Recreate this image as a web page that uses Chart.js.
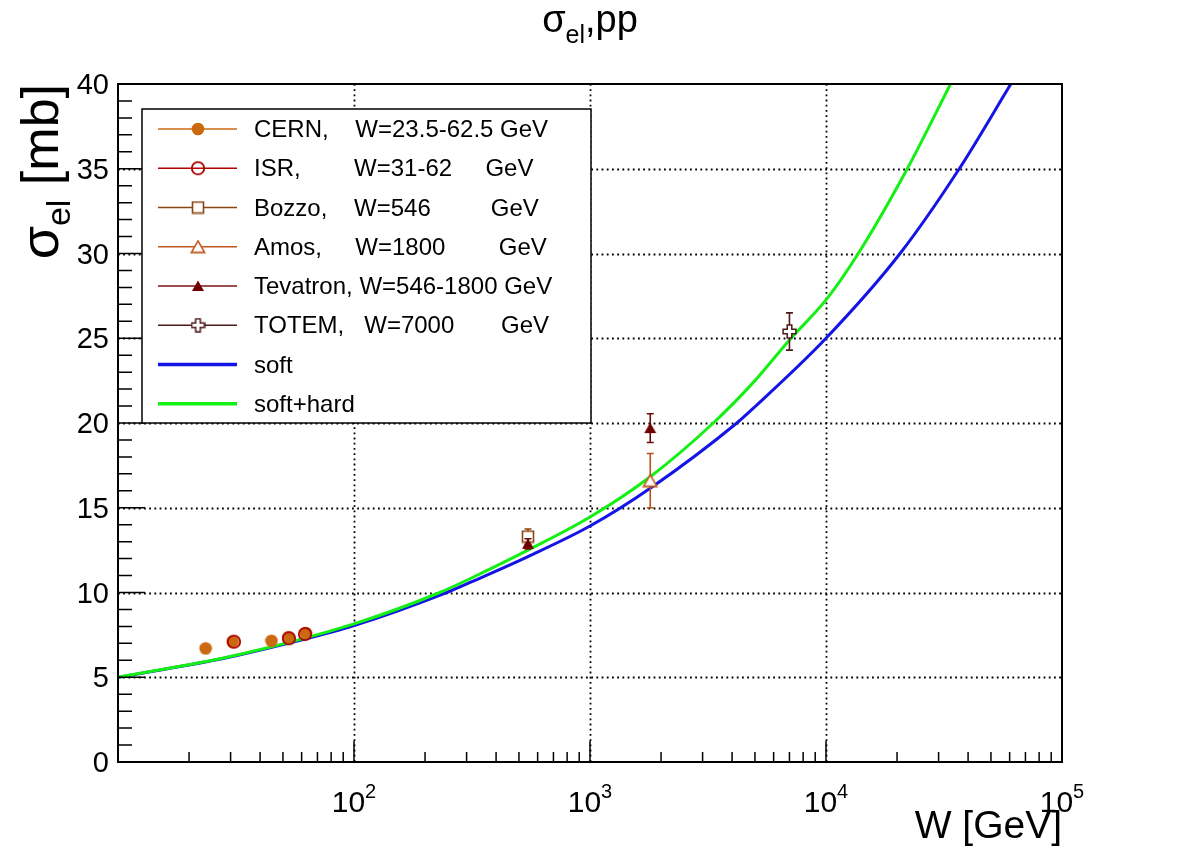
<!DOCTYPE html>
<html lang="en">
<head>
<meta charset="UTF-8">
<title>sigma_el pp</title>
<script src="https://cdn.jsdelivr.net/npm/chart.js"></script>
<style>
  html, body { margin: 0; padding: 0; background: #fff; }
  #wrap { position: relative; width: 1182px; height: 848px; }
</style>
</head>
<body>
<div id="wrap"><canvas id="sigmaChart" width="1182" height="848"></canvas></div>
<script>
// measured elastic cross sections, W in GeV, sigma in mb
const cernW = [23.5, 30.6, 44.7, 52.8, 62.5];
const cernSigma = [6.7, 7.1, 7.15, 7.35, 7.6];
const isrW = [31, 53, 62];
const isrSigma = [7.1, 7.3, 7.55];
const bozzoW = [546];
const bozzoSigma = [13.3];
const bozzoErr = [0.45];
const amosW = [1800];
const amosSigma = [16.6];
const amosErr = [1.6];
const tevatronW = [546, 1800];
const tevatronSigma = [12.87, 19.7];
const tevatronErr = [0.3, 0.85];
const totemW = [7000];
const totemSigma = [25.4];
const totemErr = [1.1];

// model curves
const softW = [10, 17.8, 31.6, 56.2, 100, 247, 316, 546, 1000, 1800, 4190, 5000, 10000, 20600, 36700, 60700];
const softSigma = [5.0, 5.6, 6.27, 7.1, 8.05, 10.0, 10.64, 12.12, 13.92, 16.15, 20.0, 20.96, 25.0, 30.0, 35.0, 40.0];
const hardW = [10, 31.6, 100, 231, 316, 546, 1000, 1800, 3330, 5000, 7000, 10000, 13700, 22100, 33700];
const hardSigma = [5.0, 6.3, 8.15, 10.0, 10.87, 12.5, 14.45, 16.83, 20.0, 22.5, 24.9, 27.26, 30.0, 35.0, 40.0];

// axes
const yMajorTicks = [0, 5, 10, 15, 20, 25, 30, 35, 40];
const xDecadeExps = [1, 2, 3, 4, 5];
const xLabelExps = [2, 3, 4, 5];

const legendLabels = [
  'CERN,    W=23.5-62.5 GeV',
  'ISR,        W=31-62     GeV',
  'Bozzo,    W=546         GeV',
  'Amos,     W=1800        GeV',
  'Tevatron, W=546-1800 GeV',
  'TOTEM,   W=7000       GeV',
  'soft',
  'soft+hard'
];

const FONT = '"Liberation Sans", Arial, Helvetica, sans-serif';

function pts(xs, ys) {
  return xs.map((x, i) => ({ x: x, y: ys[i] }));
}

function markerCanvas(w, h, paint) {
  const c = document.createElement('canvas');
  c.width = w;
  c.height = h;
  paint(c.getContext('2d'));
  return c;
}

const cernMarker = markerCanvas(14, 14, g => {
  g.fillStyle = '#cc690f';
  g.beginPath(); g.arc(7, 7, 6.3, 0, 2 * Math.PI); g.fill();
});
const isrMarker = markerCanvas(16, 16, g => {
  g.strokeStyle = '#a80000'; g.lineWidth = 1.8;
  g.beginPath(); g.arc(8, 8, 6.2, 0, 2 * Math.PI); g.stroke();
});
const bozzoMarker = markerCanvas(14, 14, g => {
  g.fillStyle = '#fff'; g.strokeStyle = '#8b4513'; g.lineWidth = 1.6;
  g.fillRect(1.5, 1.5, 11, 11); g.strokeRect(1.5, 1.5, 11, 11);
});
const amosMarker = markerCanvas(16, 14, g => {
  g.fillStyle = '#fff'; g.strokeStyle = '#c0561c'; g.lineWidth = 1.6;
  g.beginPath(); g.moveTo(8, 1.2); g.lineTo(14.6, 12.6); g.lineTo(1.4, 12.6); g.closePath();
  g.fill(); g.stroke();
});
const tevatronMarker = markerCanvas(14, 12, g => {
  g.fillStyle = '#700000';
  g.beginPath(); g.moveTo(7, 0.5); g.lineTo(13, 11); g.lineTo(1, 11); g.closePath(); g.fill();
});
const totemMarker = markerCanvas(15, 15, g => {
  const c = 7.5, a = 2.3, L = 6.4;
  g.fillStyle = '#fff'; g.strokeStyle = '#4d1a1a'; g.lineWidth = 1.5;
  g.beginPath();
  g.moveTo(c - a, c - L); g.lineTo(c + a, c - L); g.lineTo(c + a, c - a); g.lineTo(c + L, c - a);
  g.lineTo(c + L, c + a); g.lineTo(c + a, c + a); g.lineTo(c + a, c + L); g.lineTo(c - a, c + L);
  g.lineTo(c - a, c + a); g.lineTo(c - L, c + a); g.lineTo(c - L, c - a); g.lineTo(c - a, c - a);
  g.closePath(); g.fill(); g.stroke();
});

const legendStyles = [
  { color: '#cc690f', marker: cernMarker, width: 1.5 },
  { color: '#b00000', marker: isrMarker, width: 1.5 },
  { color: '#8b4513', marker: bozzoMarker, width: 1.5 },
  { color: '#c0561c', marker: amosMarker, width: 1.5 },
  { color: '#7a1515', marker: tevatronMarker, width: 1.5 },
  { color: '#4d1a1a', marker: totemMarker, width: 1.5 },
  { color: '#1414e6', marker: null, width: 3.5 },
  { color: '#14f014', marker: null, width: 3.5 }
];

function pointSet(label, xs, ys, marker, color, order, errs) {
  return {
    label: label,
    data: pts(xs, ys),
    pointStyle: marker,
    pointRadius: 6,
    showLine: false,
    borderColor: color,
    backgroundColor: color,
    order: order,
    yErr: errs || null
  };
}

function curveSet(label, xs, ys, color, order) {
  return {
    label: label,
    data: pts(xs, ys),
    showLine: true,
    pointRadius: 0,
    borderWidth: 3,
    borderColor: color,
    cubicInterpolationMode: 'monotone',
    order: order
  };
}

function subText(ctx, parts, x, y, align) {
  // parts: [text, size, dy]
  let total = 0;
  parts.forEach(p => { ctx.font = p[1] + 'px ' + FONT; total += ctx.measureText(p[0]).width; });
  let cx = align === 'center' ? x - total / 2 : align === 'right' ? x - total : x;
  ctx.textAlign = 'left';
  ctx.textBaseline = 'alphabetic';
  parts.forEach(p => {
    ctx.font = p[1] + 'px ' + FONT;
    ctx.fillText(p[0], cx, y + p[2]);
    cx += ctx.measureText(p[0]).width;
  });
}

const rootStyle = {
  id: 'rootStyle',
  beforeDatasetsDraw(chart) {
    const { ctx, chartArea: a, scales: { x, y } } = chart;
    ctx.save();
    ctx.strokeStyle = '#000';
    ctx.lineWidth = 1.8;
    ctx.setLineDash([1.8, 3.4]);
    xDecadeExps.forEach(e => {
      const px = Math.round(x.getPixelForValue(Math.pow(10, e))) + 0.5;
      if (px <= a.left + 2 || px >= a.right - 2) return;
      ctx.beginPath(); ctx.moveTo(px, a.top); ctx.lineTo(px, a.bottom); ctx.stroke();
    });
    yMajorTicks.forEach(v => {
      const py = Math.round(y.getPixelForValue(v)) + 0.5;
      if (py <= a.top + 2 || py >= a.bottom - 2) return;
      ctx.beginPath(); ctx.moveTo(a.left, py); ctx.lineTo(a.right, py); ctx.stroke();
    });
    ctx.restore();
  },
  beforeDatasetDraw(chart, args) {
    const ds = chart.data.datasets[args.index];
    if (!ds.yErr) return;
    const { ctx, scales: { x, y } } = chart;
    ctx.save();
    ctx.strokeStyle = ds.borderColor;
    ctx.lineWidth = 1.6;
    ds.data.forEach((p, i) => {
      const px = x.getPixelForValue(p.x);
      const top = y.getPixelForValue(p.y + ds.yErr[i]);
      const bot = y.getPixelForValue(p.y - ds.yErr[i]);
      ctx.beginPath();
      ctx.moveTo(px, top); ctx.lineTo(px, bot);
      ctx.moveTo(px - 3.5, top); ctx.lineTo(px + 3.5, top);
      ctx.moveTo(px - 3.5, bot); ctx.lineTo(px + 3.5, bot);
      ctx.stroke();
    });
    ctx.restore();
  },
  afterDatasetsDraw(chart) {
    const { ctx, chartArea: a, scales: { x, y } } = chart;
    ctx.save();
    ctx.strokeStyle = '#000';
    ctx.fillStyle = '#000';
    ctx.lineWidth = 1.5;

    // ticks on x axis (inward)
    ctx.beginPath();
    for (let e = 1; e < 5; e++) {
      for (let m = 1; m <= 9; m++) {
        const px = x.getPixelForValue(m * Math.pow(10, e));
        const len = m === 1 ? 21 : 10;
        ctx.moveTo(px, a.bottom); ctx.lineTo(px, a.bottom - len);
      }
    }
    // ticks on y axis
    for (let v = 0; v <= 40; v++) {
      const py = y.getPixelForValue(v);
      const len = v % 5 === 0 ? 27 : 14;
      ctx.moveTo(a.left, py); ctx.lineTo(a.left + len, py);
    }
    ctx.stroke();

    // frame
    ctx.lineWidth = 2;
    ctx.strokeRect(a.left, a.top, a.right - a.left, a.bottom - a.top);

    // y tick labels
    ctx.font = '29px ' + FONT;
    ctx.textAlign = 'right';
    ctx.textBaseline = 'middle';
    yMajorTicks.forEach(v => {
      ctx.fillText(String(v), a.left - 9, y.getPixelForValue(v) + 2);
    });

    // x tick labels 10^n
    xLabelExps.forEach(e => {
      const px = x.getPixelForValue(Math.pow(10, e));
      subText(ctx, [['10', 30, 0], [String(e), 20, -14]], px, a.bottom + 50, 'center');
    });

    // legend
    const lx = 142, ly = 109, lw = 449, lh = 314;
    ctx.fillStyle = '#fff';
    ctx.fillRect(lx, ly, lw, lh);
    ctx.lineWidth = 1.5;
    ctx.strokeStyle = '#000';
    ctx.strokeRect(lx, ly, lw, lh);
    legendLabels.forEach((txt, i) => {
      const st = legendStyles[i];
      const ry = ly + 20 + i * 39.25;
      ctx.strokeStyle = st.color;
      ctx.lineWidth = st.width;
      ctx.beginPath(); ctx.moveTo(158, ry); ctx.lineTo(237, ry); ctx.stroke();
      if (st.marker) {
        ctx.drawImage(st.marker, 198 - st.marker.width / 2, ry - st.marker.height / 2);
      }
      ctx.fillStyle = '#000';
      ctx.font = '24px ' + FONT;
      ctx.textAlign = 'left';
      ctx.textBaseline = 'alphabetic';
      ctx.fillText(txt, 254, ry + 8);
    });
    ctx.restore();
  },
  afterDraw(chart) {
    const { ctx, chartArea: a } = chart;
    ctx.save();
    ctx.fillStyle = '#000';
    // title
    subText(ctx, [['\u03c3', 38, 0], ['el', 25, 11], [',pp', 38, 0]], 590, 32, 'center');
    // x title
    subText(ctx, [['W [GeV]', 39, 0]], a.right, 838, 'right');
    // y title, rotated
    ctx.translate(58, a.top);
    ctx.rotate(-Math.PI / 2);
    subText(ctx, [['\u03c3', 54, 0], ['el', 34, 12], [' [mb]', 52, 0]], 0, 0, 'right');
    ctx.restore();
  }
};

Chart.defaults.font.family = FONT;

new Chart(document.getElementById('sigmaChart').getContext('2d'), {
  type: 'scatter',
  data: {
    datasets: [
      pointSet('ISR', isrW, isrSigma, isrMarker, '#a80000', 1),
      pointSet('CERN', cernW, cernSigma, cernMarker, '#cc690f', 2),
      pointSet('TOTEM', totemW, totemSigma, totemMarker, '#4d1a1a', 3, totemErr),
      pointSet('Tevatron', tevatronW, tevatronSigma, tevatronMarker, '#6e0a0a', 4, tevatronErr),
      pointSet('Amos', amosW, amosSigma, amosMarker, '#b8501c', 5, amosErr),
      pointSet('Bozzo', bozzoW, bozzoSigma, bozzoMarker, '#8b4513', 6, bozzoErr),
      curveSet('soft+hard', hardW, hardSigma, '#14f014', 8),
      curveSet('soft', softW, softSigma, '#1414e6', 9)
    ]
  },
  options: {
    responsive: false,
    devicePixelRatio: 1,
    animation: false,
    events: [],
    layout: { padding: { left: 118, right: 120, top: 84, bottom: 86 } },
    plugins: {
      legend: { display: false },
      tooltip: { enabled: false },
      title: { display: false }
    },
    scales: {
      x: { type: 'logarithmic', min: 10, max: 100000, display: false },
      y: { type: 'linear', min: 0, max: 40, display: false }
    }
  },
  plugins: [rootStyle]
});
</script>
</body>
</html>
